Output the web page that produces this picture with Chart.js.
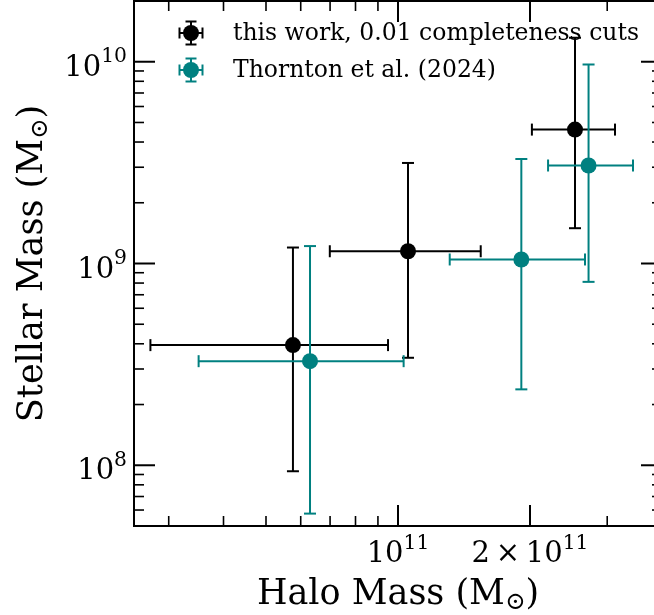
<!DOCTYPE html>
<html>
<head>
  <title>Stellar mass vs halo mass</title>
  <script src="https://cdn.jsdelivr.net/npm/chart.js@4.4.1/dist/chart.umd.min.js"></script>
  <style>
    html, body { margin: 0; padding: 0; overflow: hidden; background: #fff; }
  </style>
</head>
<body>
  <canvas id="myChart" width="670" height="615"></canvas>
  <script>
    // this work, 0.01 completeness cuts
    var haloThis   = [5.76e10, 1.054e11, 2.533e11];
    var haloThisLo = [2.725e10, 6.99e10, 2.02e11];
    var haloThisHi = [9.49e10, 1.544e11, 3.125e11];
    var starThis   = [3.94e8, 1.15e9, 4.61e9];
    var starThisLo = [9.34e7, 3.41e8, 1.496e9];
    var starThisHi = [1.20e9, 3.15e9, 1.315e10];

    // Thornton et al. (2024)
    var haloThor   = [6.30e10, 1.911e11, 2.72e11];
    var haloThorLo = [3.51e10, 1.312e11, 2.199e11];
    var haloThorHi = [1.03e11, 2.67e11, 3.435e11];
    var starThor   = [3.28e8, 1.047e9, 3.06e9];
    var starThorLo = [5.76e7, 2.378e8, 8.11e8];
    var starThorHi = [1.22e9, 3.295e9, 9.69e9];

    var labels = ['this work, 0.01 completeness cuts', 'Thornton et al. (2024)'];
    var colors = ['#000000', '#008080'];

    // ticks
    var xMajor = [1e11, 2e11];
    var xMajorLabels = [['10', '11'], ['2\u2009\u00d7\u200910', '11']];
    var xMinor = [3e10, 4e10, 5e10, 6e10, 7e10, 8e10, 9e10, 3e11, 4e11];
    var yMajor = [1e8, 1e9, 1e10];
    var yMajorLabels = [['10', '8'], ['10', '9'], ['10', '10']];
    var yMinor = [];
    [1e7, 1e8, 1e9, 1e10].forEach(function(d) {
      for (var k = 2; k <= 9; k++) yMinor.push(k * d);
    });

    function points(x, xlo, xhi, y, ylo, yhi) {
      return x.map(function(v, i) {
        return {x: v, y: y[i], xlo: xlo[i], xhi: xhi[i], ylo: ylo[i], yhi: yhi[i]};
      });
    }

    var FONT = '"DejaVu Serif", serif';
    var TICK_SIZE = 29, TITLE_SIZE = 35, LEGEND_SIZE = 23.5;

    function line(ctx, x0, y0, x1, y1) {
      ctx.beginPath(); ctx.moveTo(x0, y0); ctx.lineTo(x1, y1); ctx.stroke();
    }

    // error bars drawn just before each dataset's markers
    var errorBars = {
      id: 'errorBars',
      beforeDatasetDraw: function(chart, args) {
        var ds = chart.data.datasets[args.index];
        var ctx = chart.ctx, xs = chart.scales.x, ys = chart.scales.y;
        var cap = 6;
        ctx.save();
        ctx.strokeStyle = ds.backgroundColor;
        ctx.lineWidth = 2;
        ds.data.forEach(function(p) {
          var px = xs.getPixelForValue(p.x), py = ys.getPixelForValue(p.y);
          var x0 = xs.getPixelForValue(p.xlo), x1 = xs.getPixelForValue(p.xhi);
          var y0 = ys.getPixelForValue(p.ylo), y1 = ys.getPixelForValue(p.yhi);
          line(ctx, x0, py, x1, py);
          line(ctx, px, y0, px, y1);
          line(ctx, x0, py - cap, x0, py + cap);
          line(ctx, x1, py - cap, x1, py + cap);
          line(ctx, px - cap, y0, px + cap, y0);
          line(ctx, px - cap, y1, px + cap, y1);
        });
        ctx.restore();
      }
    };

    // text with a superscript part
    function sciText(ctx, base, sup, x, y, align, size) {
      ctx.font = size + 'px ' + FONT;
      var wb = ctx.measureText(base).width;
      ctx.font = (size * 0.7) + 'px ' + FONT;
      var ws = ctx.measureText(sup).width;
      var start = align === 'right' ? x - wb - ws : x - (wb + ws) / 2;
      ctx.textAlign = 'left';
      ctx.font = size + 'px ' + FONT;
      ctx.fillText(base, start, y);
      ctx.font = (size * 0.7) + 'px ' + FONT;
      ctx.fillText(sup, start + wb, y - 13.5);
    }

    // "<text> (M_sun)" with a subscript sun symbol
    function massLabel(ctx, text, x, y, size) {
      var a = text + ' (M', b = '\u2299', c = ')';
      ctx.font = size + 'px ' + FONT;
      var wa = ctx.measureText(a).width, wc = ctx.measureText(c).width;
      ctx.font = (size * 0.7) + 'px ' + FONT;
      var wb = ctx.measureText(b).width;
      var start = x - (wa + wb + wc) / 2;
      ctx.textAlign = 'left';
      ctx.font = size + 'px ' + FONT;
      ctx.fillText(a, start, y);
      ctx.fillText(c, start + wa + wb, y);
      ctx.font = (size * 0.7) + 'px ' + FONT;
      ctx.fillText(b, start + wa, y + 5);
    }

    function legendGlyph(ctx, x, y, color) {
      ctx.save();
      ctx.strokeStyle = color; ctx.fillStyle = color; ctx.lineWidth = 2;
      var h = 11.5, cap = 5.5;
      line(ctx, x - h, y, x + h, y);
      line(ctx, x, y - h, x, y + h);
      line(ctx, x - h, y - cap, x - h, y + cap);
      line(ctx, x + h, y - cap, x + h, y + cap);
      line(ctx, x - cap, y - h, x + cap, y - h);
      line(ctx, x - cap, y + h, x + cap, y + h);
      ctx.beginPath(); ctx.arc(x, y, 8, 0, Math.PI * 2); ctx.fill();
      ctx.restore();
    }

    var frame = {
      id: 'frame',
      afterDraw: function(chart) {
        var ctx = chart.ctx, a = chart.chartArea;
        var xs = chart.scales.x, ys = chart.scales.y;
        ctx.save();
        ctx.strokeStyle = '#000'; ctx.fillStyle = '#000';
        ctx.lineWidth = 2;
        ctx.strokeRect(a.left, a.top, a.right - a.left, a.bottom - a.top);

        function xtick(v, len, w) {
          var p = xs.getPixelForValue(v);
          ctx.lineWidth = w;
          line(ctx, p, a.bottom, p, a.bottom - len);
          line(ctx, p, a.top, p, a.top + len);
        }
        function ytick(v, len, w) {
          if (v < ys.min || v > ys.max) return;
          var p = ys.getPixelForValue(v);
          ctx.lineWidth = w;
          line(ctx, a.left, p, a.left + len, p);
          line(ctx, a.right, p, a.right - len, p);
        }
        xMinor.forEach(function(v) { xtick(v, 10, 1.6); });
        xMajor.forEach(function(v) { xtick(v, 21, 2); });
        yMinor.forEach(function(v) { ytick(v, 10, 1.6); });
        yMajor.forEach(function(v) { ytick(v, 21, 2); });

        // tick labels
        ctx.textBaseline = 'alphabetic';
        xMajor.forEach(function(v, i) {
          sciText(ctx, xMajorLabels[i][0], xMajorLabels[i][1],
                  xs.getPixelForValue(v), a.bottom + 36, 'center', TICK_SIZE);
        });
        yMajor.forEach(function(v, i) {
          sciText(ctx, yMajorLabels[i][0], yMajorLabels[i][1],
                  a.left - 7, ys.getPixelForValue(v) + 14, 'right', TICK_SIZE);
        });

        // axis titles
        massLabel(ctx, 'Halo Mass', (a.left + a.right) / 2, 604, TITLE_SIZE);
        ctx.save();
        ctx.translate(42, (a.top + a.bottom) / 2);
        ctx.rotate(-Math.PI / 2);
        massLabel(ctx, 'Stellar Mass', 0, 0, TITLE_SIZE);
        ctx.restore();

        // legend
        var rows = [33, 70];
        labels.forEach(function(t, i) {
          legendGlyph(ctx, 191, rows[i], colors[i]);
          ctx.font = LEGEND_SIZE + 'px ' + FONT;
          ctx.textAlign = 'left';
          ctx.fillStyle = '#000';
          ctx.fillText(t, 233, rows[i] + 7);
        });
        ctx.restore();
      }
    };

    var ctx = document.getElementById('myChart').getContext('2d');
    var chart = new Chart(ctx, {
      type: 'scatter',
      data: {
        datasets: [{
          label: labels[0],
          data: points(haloThis, haloThisLo, haloThisHi, starThis, starThisLo, starThisHi),
          backgroundColor: colors[0],
          borderColor: colors[0],
          pointRadius: 8,
          pointHoverRadius: 8,
          pointBorderWidth: 0,
          order: 1
        }, {
          label: labels[1],
          data: points(haloThor, haloThorLo, haloThorHi, starThor, starThorLo, starThorHi),
          backgroundColor: colors[1],
          borderColor: colors[1],
          pointRadius: 8,
          pointHoverRadius: 8,
          pointBorderWidth: 0,
          order: 0
        }]
      },
      options: {
        responsive: false,
        animation: false,
        events: [],
        layout: { padding: { left: 134, right: 8, top: 1, bottom: 89 }, autoPadding: false },
        plugins: { legend: { display: false }, tooltip: { enabled: false } },
        scales: {
          x: {
            type: 'logarithmic', min: 2.5e10, max: 4e11,
            ticks: { display: false }, grid: { display: false }, border: { display: false },
            afterFit: function(s) { s.height = 0; }
          },
          y: {
            type: 'logarithmic', min: 5e7, max: 2e10,
            ticks: { display: false }, grid: { display: false }, border: { display: false },
            afterFit: function(s) { s.width = 0; }
          }
        }
      },
      plugins: [errorBars, frame]
    });
  </script>
</body>
</html>
